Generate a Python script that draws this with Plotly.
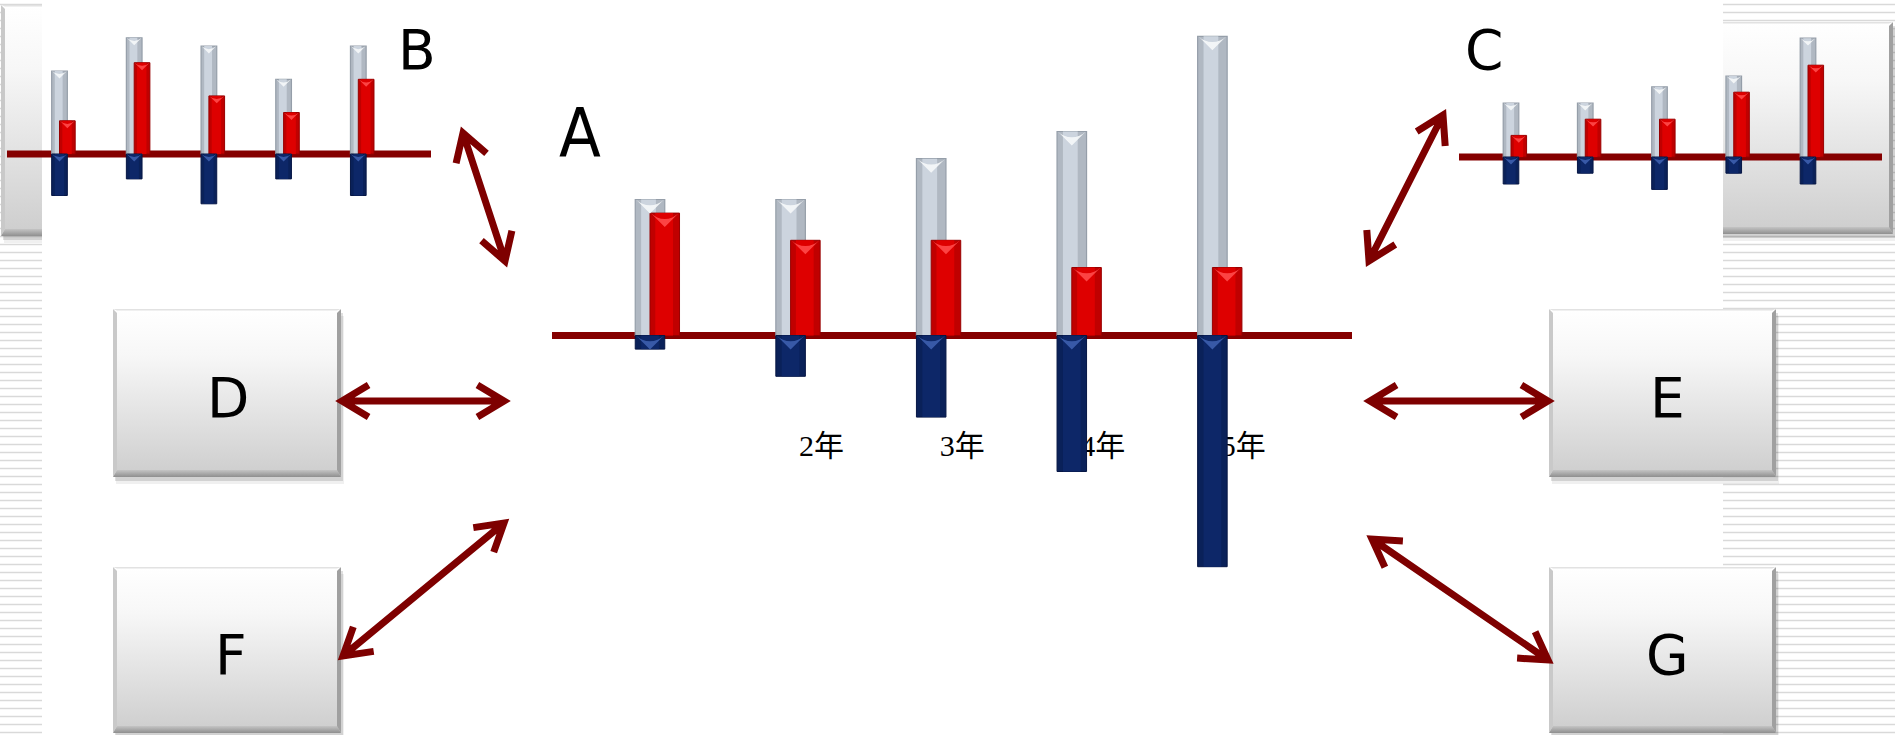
import math
import plotly.graph_objects as go

W, H = 1895, 735

# ---------------- data ----------------
categories = ["1年", "2年", "3年", "4年", "5年"]
tick_labels = ["", "2年", "3年", "4年", "5年"]

a_gray = [10, 10, 13, 15, 22]
a_red = [9, 7, 7, 5, 5]
a_blue = [-1, -3, -6, -10, -17]

b_gray = [10, 14, 13, 9, 13]
b_red = [4, 11, 7, 5, 9]
b_blue = [-5, -3, -6, -3, -5]

c_gray = [10, 10, 13, 15, 22]
c_red = [4, 7, 7, 12, 17]
c_blue = [-5, -3, -6, -3, -5]

panel_letters = ["A", "B", "C", "D", "E", "F", "G"]

# ---------------- styles ----------------
GRAY_FILL, GRAY_HL, GRAY_EDGE, GRAY_BEVEL = "#b0b8c2", "#ccd4de", "#959ea9", "#f6f8fa"
RED_FILL, RED_HL, RED_EDGE, RED_BEVEL = "#c00000", "#de0000", "#980000", "#ff4a4a"
BLUE_FILL, BLUE_HL, BLUE_EDGE, BLUE_BEVEL = "#0a2159", "#0d2768", "#061644", "#3d5fae"
AXIS_RED = "#850000"
ARROW_RED = "#7e0000"
STRIPE = "#d9d9d9"
BW = 0.21

fig = go.Figure()


def poly(pts, color=None, grad=None):
    xs_ = [p[0] for p in pts] + [pts[0][0]]
    ys_ = [p[1] for p in pts] + [pts[0][1]]
    kw = dict(x=xs_, y=ys_, mode="lines", line=dict(width=0), fill="toself",
              hoverinfo="skip", showlegend=False, xaxis="x", yaxis="y")
    if grad is not None:
        kw["fillgradient"] = dict(type="vertical", start=min(ys_), stop=max(ys_), colorscale=grad)
    else:
        kw["fillcolor"] = color
    fig.add_trace(go.Scatter(**kw))


# background stripes in the side margins
sx, sy = [], []
yy = 4.5
while yy < H:
    for xa, xb in [(0, 42), (1723, W)]:
        sx += [xa, xb, None]
        sy += [yy, yy, None]
    yy += 8
fig.add_trace(go.Scatter(x=sx, y=sy, mode="lines", line=dict(color=STRIPE, width=1.7),
                         hoverinfo="skip", showlegend=False, xaxis="x", yaxis="y"))

BODY_GRAD = [[0, "#ffffff"], [0.28, "#f7f7f7"], [1, "#cdcdcd"]]
BOTTOM_GRAD = [[0, "#c4c4c4"], [1, "#8f8f8f"]]


def add_box(x0, y0, x1, y1, left_edge=True, right_edge=True):
    for dx, dy, a in [(3, 7, 0.06), (2, 4, 0.12)]:
        sx0 = x0 + dx if left_edge else x0
        sx1 = x1 + dx if right_edge else x1
        poly([(sx0, y0 + dy), (sx1, y0 + dy), (sx1, y1 + dy), (sx0, y1 + dy)],
             color=f"rgba(0,0,0,{a})")
    poly([(x0, y0), (x1, y0), (x1, y1), (x0, y1)], grad=BODY_GRAD)
    b, bb = 4, 7
    lb = b if left_edge else 0
    rb = b if right_edge else 0
    poly([(x0, y1), (x1, y1), (x1 - rb, y1 - bb), (x0 + lb, y1 - bb)], grad=BOTTOM_GRAD)
    if left_edge:
        poly([(x0, y0), (x0 + b, y0 + b), (x0 + b, y1 - bb), (x0, y1)], color="#c9c9c9")
    if right_edge:
        poly([(x1, y0), (x1, y1), (x1 - b, y1 - bb), (x1 - b, y0 + b)], color="#a0a0a0")
    poly([(x0, y0), (x1, y0), (x1 - rb, y0 + 1.5), (x0 + lb, y0 + 1.5)], color="#e2e2e2")


# partial boxes behind charts B and C (clipped by the white panel)
add_box(1, 5, 42, 236, left_edge=True, right_edge=False)
add_box(1723, 22, 1893, 234, left_edge=False, right_edge=True)
# boxes D, E, F, G
box_rects = [(113, 309, 341, 477), (1549, 309, 1776, 477),
             (113, 567, 341, 733), (1549, 567, 1776, 733)]
for r in box_rects:
    add_box(*r)

# ---------------- bar charts ----------------
xs = list(range(len(categories)))
specs = [
    (a_gray, a_red, a_blue, dict(c0=650, step=140.6, x0=552, x1=1352, base=335.5, ppu=13.6, ylo=-20, yhi=24)),
    (b_gray, b_red, b_blue, dict(c0=59.5, step=74.7, x0=7, x1=431, base=154, ppu=8.3, ylo=-8, yhi=17)),
    (c_gray, c_red, c_blue, dict(c0=1511, step=74.25, x0=1459, x1=1882, base=157, ppu=5.4, ylo=-10, yhi=26)),
]

layout_axes = {}
shapes = []
for n, (g, r, bl, geo) in enumerate(specs, start=2):
    xa, ya = f"x{n}", f"y{n}"
    xr = [(geo["x0"] - geo["c0"]) / geo["step"], (geo["x1"] - geo["c0"]) / geo["step"]]
    top_px = geo["base"] - geo["yhi"] * geo["ppu"]
    bot_px = geo["base"] - geo["ylo"] * geo["ppu"]
    layout_axes[f"xaxis{n}"] = dict(domain=[geo["x0"] / W, geo["x1"] / W], range=xr,
                                    visible=False, anchor=ya, fixedrange=True)
    layout_axes[f"yaxis{n}"] = dict(domain=[1 - bot_px / H, 1 - top_px / H],
                                    range=[geo["ylo"], geo["yhi"]], visible=False,
                                    anchor=xa, fixedrange=True)
    shapes.append(dict(type="line", xref=xa, yref=ya, x0=xr[0], x1=xr[1], y0=0, y1=0,
                       layer="below", line=dict(color=AXIS_RED, width=7)))

    def bar(vals, width, offset, color, line=None):
        fig.add_trace(go.Bar(x=xs, y=vals, width=width, offset=offset, xaxis=xa, yaxis=ya,
                             marker=dict(color=color, line=line or dict(width=0)),
                             hoverinfo="skip", showlegend=False))

    bar(g, BW, -BW / 2, GRAY_FILL, dict(color=GRAY_EDGE, width=1.2))
    bar(g, BW * 0.5, -BW * 0.3, GRAY_HL)
    bar(r, BW, 0, RED_FILL, dict(color=RED_EDGE, width=1.0))
    bar(r, BW * 0.6, BW * 0.18, RED_HL)
    bar(bl, BW, -BW / 2, BLUE_FILL, dict(color=BLUE_EDGE, width=1.0))
    bar(bl, BW * 0.6, -BW * 0.3, BLUE_HL)

    # bevel highlights at the top of each bar
    bar_px = BW * geo["step"]
    s = bar_px * 0.95 / 1.414
    h_units = 0.707 * s / geo["ppu"]
    for bx, by, col in [
        (xs, [v - h_units for v in g], GRAY_BEVEL),
        ([i + BW / 2 for i in xs], [v - h_units for v in r], RED_BEVEL),
        (xs, [-h_units for v in bl], BLUE_BEVEL),
    ]:
        fig.add_trace(go.Scatter(x=bx, y=by, mode="markers", xaxis=xa, yaxis=ya,
                                 marker=dict(symbol="arrow-wide", angle=180, size=s, color=col,
                                             opacity=0.9, line=dict(width=0)),
                                 hoverinfo="skip", showlegend=False))

# category labels of chart A (axis tick labels, drawn under the bars)
layout_axes["xaxis2"].update(
    visible=True, showline=False, showgrid=False, zeroline=False, ticks="",
    tickmode="array", tickvals=[i + 0.22 for i in xs], ticktext=tick_labels,
    tickfont=dict(family="Liberation Serif, Noto Sans CJK SC, serif", size=30, color="#000000"),
    anchor="free", position=1 - 425 / H, layer="below traces",
)

# ---------------- arrows ----------------
arrow_ends = [((463, 133), (505, 261)), ((1443, 115), (1369, 261)),
              ((342, 401), (504, 401)), ((1370, 401), (1548, 401)),
              ((343, 656), (504, 523)), ((1372, 539), (1548, 660))]


def arrow_path(p0, p1, L=31, ang=math.radians(31)):
    ux, uy = p1[0] - p0[0], p1[1] - p0[1]
    d = math.hypot(ux, uy)
    ux, uy = ux / d, uy / d

    def rot(x, y, a):
        return x * math.cos(a) - y * math.sin(a), x * math.sin(a) + y * math.cos(a)

    parts = [f"M{p0[0]},{p0[1]} L{p1[0]},{p1[1]}"]
    for tip, sgn in [(p1, -1), (p0, 1)]:
        a1 = rot(ux, uy, ang)
        a2 = rot(ux, uy, -ang)
        q1 = (tip[0] + sgn * L * a1[0], tip[1] + sgn * L * a1[1])
        q2 = (tip[0] + sgn * L * a2[0], tip[1] + sgn * L * a2[1])
        parts.append(f"M{q1[0]:.1f},{q1[1]:.1f} L{tip[0]},{tip[1]} L{q2[0]:.1f},{q2[1]:.1f}")
    return " ".join(parts)


for p0, p1 in arrow_ends:
    shapes.append(dict(type="path", xref="x", yref="y", path=arrow_path(p0, p1),
                       line=dict(color=ARROW_RED, width=7), layer="above"))

# ---------------- letters ----------------
letter_pos = [(580, 133), (417, 50), (1484, 50), (228, 398), (1667, 398), (231, 655), (1667, 655)]
annotations = []
for t, (lx, ly) in zip(panel_letters, letter_pos):
    if t == "A":
        font = dict(family="Liberation Sans Narrow, DejaVu Sans Condensed, Roboto, sans-serif",
                    size=68, color="#000000")
    else:
        font = dict(family="DejaVu Sans, Verdana, sans-serif", size=55, color="#000000")
    annotations.append(dict(x=lx, y=ly, xref="x", yref="y", text=t, showarrow=False,
                            xanchor="center", yanchor="middle", font=font))

fig.update_layout(
    width=W, height=H, margin=dict(l=0, r=0, t=0, b=0),
    paper_bgcolor="#ffffff", plot_bgcolor="rgba(0,0,0,0)",
    barmode="overlay", showlegend=False,
    xaxis=dict(domain=[0, 1], range=[0, W], visible=False, fixedrange=True),
    yaxis=dict(domain=[0, 1], range=[H, 0], visible=False, fixedrange=True),
    shapes=shapes, annotations=annotations,
    **layout_axes,
)

fig.write_html("out.html", config={"displayModeBar": False},
               post_script="document.body.style.margin='0px';document.body.style.overflow='hidden';")
